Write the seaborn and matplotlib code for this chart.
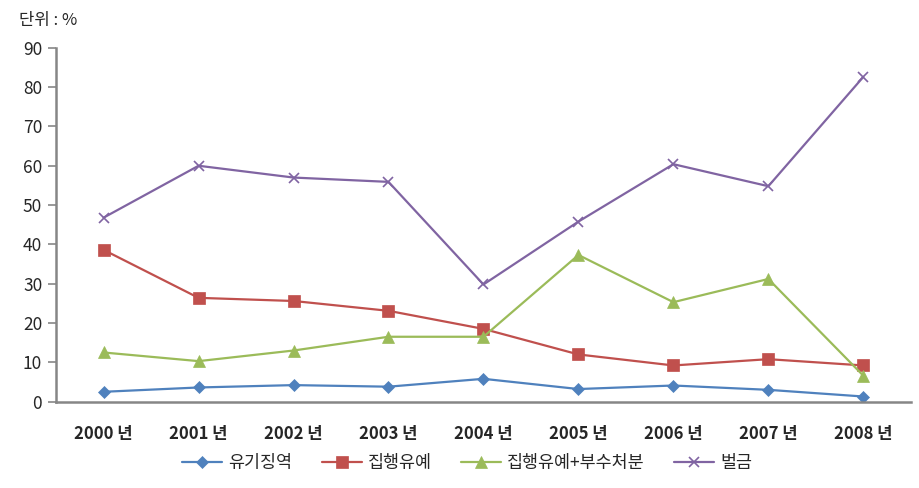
import numpy as np
import pandas as pd
import matplotlib
matplotlib.use("Agg")
import matplotlib.pyplot as plt
import seaborn as sns

# 연도별 처분 비율 (단위: %)
years = ['2000 년', '2001 년', '2002 년', '2003 년', '2004 년',
         '2005 년', '2006 년', '2007 년', '2008 년']
imprisonment = [2.5, 3.6, 4.2, 3.8, 5.8, 3.2, 4.1, 3.0, 1.3]
probation = [38.6, 26.4, 25.6, 23.1, 18.5, 12.0, 9.2, 10.8, 9.2]
probation_plus = [12.5, 10.3, 13.0, 16.5, 16.5, 37.3, 25.3, 31.2, 6.6]
fine = [46.8, 60.0, 57.0, 55.9, 29.8, 45.8, 60.4, 54.8, 82.6]

series_names = ['유기징역', '집행유예', '집행유예+부수처분', '벌금']
series_colors = ['#4F81BD', '#C0504D', '#9BBB59', '#8064A2']
series_markers = ['D', 's', '^', 'x']
marker_sizes = [6, 8, 8, 7]

sns.set_theme(style='white')
plt.rcParams['font.family'] = ['Noto Sans CJK KR', 'DejaVu Sans']

fig = plt.figure(figsize=(9.2, 4.88), dpi=100)
ax = fig.add_axes([0.061, 0.177, 0.929, 0.725])

x_idx = np.arange(len(years))
all_values = [imprisonment, probation, probation_plus, fine]
for name, vals, c, m, ms in zip(series_names, all_values, series_colors,
                                series_markers, marker_sizes):
    df = pd.DataFrame({'x': x_idx, 'y': vals})
    sns.lineplot(data=df, x='x', y='y', ax=ax, color=c, marker=m,
                 markersize=ms, linewidth=1.6, label=name,
                 markeredgecolor=c, markeredgewidth=1.2 if m == 'x' else 0.5)

ax.set_xlim(-0.5, len(years) - 0.5)
ax.set_ylim(0, 90)
ax.set_yticks(range(0, 91, 10))
ax.set_xticks(x_idx)
ax.set_xticklabels(years, fontsize=12, fontweight='bold')
ax.set_xticks(np.arange(-0.5, len(years), 1.0), minor=True)
ax.tick_params(axis='x', which='major', length=0, pad=17)
ax.tick_params(axis='x', which='minor', length=5, color='#868686', width=1.2,
               direction='out')
ax.tick_params(axis='y', length=6, color='#868686', width=1.2, labelsize=12.5,
               pad=4, left=True)
ax.set_xlabel('')
ax.set_ylabel('')

for side in ['top', 'right']:
    ax.spines[side].set_visible(False)
for side in ['left', 'bottom']:
    ax.spines[side].set_color('#868686')
    ax.spines[side].set_linewidth(1.8)

fig.text(0.021, 0.957, '단위 : %', fontsize=12, ha='left', va='center')

ax.legend(loc='center', bbox_to_anchor=(0.508, 0.051),
          bbox_transform=fig.transFigure, ncol=4, frameon=False,
          fontsize=12.5, handlelength=2.3, columnspacing=1.7,
          handletextpad=0.35)

fig.savefig('out.png', dpi=100)
